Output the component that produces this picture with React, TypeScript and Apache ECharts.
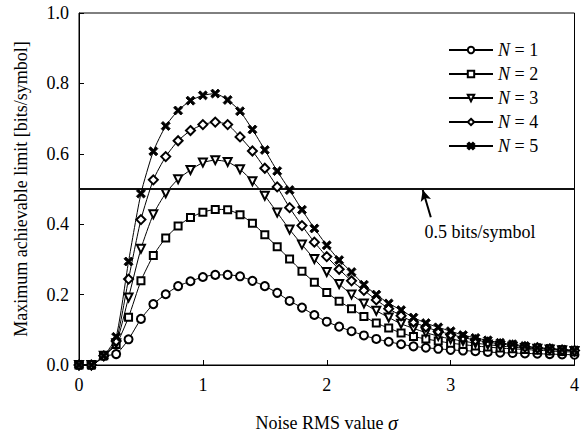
import React, { useEffect, useRef } from "react";
import * as echarts from "echarts";

const sigma: number[] = [
  0, 0.1, 0.2, 0.3, 0.4, 0.5, 0.6, 0.7, 0.8, 0.9, 1.0, 1.1, 1.2, 1.3, 1.4, 1.5, 1.6, 1.7, 1.8, 1.9, 2.0,
  2.1, 2.2, 2.3, 2.4, 2.5, 2.6, 2.7, 2.8, 2.9, 3.0, 3.1, 3.2, 3.3, 3.4, 3.5, 3.6, 3.7, 3.8, 3.9, 4.0,
];

const n1: number[] = [
  0, 0, 0.026, 0.031, 0.073, 0.131, 0.173, 0.201, 0.224, 0.238, 0.25, 0.256, 0.256, 0.252, 0.239, 0.224,
  0.205, 0.182, 0.163, 0.142, 0.123, 0.109, 0.096, 0.084, 0.074, 0.066, 0.059, 0.053, 0.049, 0.046, 0.043,
  0.041, 0.039, 0.037, 0.035, 0.034, 0.033, 0.032, 0.031, 0.030, 0.029,
];
const n2: number[] = [
  0, 0, 0.026, 0.058, 0.136, 0.239, 0.311, 0.361, 0.395, 0.419, 0.434, 0.442, 0.441, 0.427, 0.403, 0.37,
  0.336, 0.301, 0.266, 0.235, 0.206, 0.181, 0.16, 0.138, 0.119, 0.105, 0.091, 0.081, 0.074, 0.068, 0.062,
  0.058, 0.054, 0.051, 0.048, 0.046, 0.044, 0.042, 0.040, 0.038, 0.037,
];
const n3: number[] = [
  0, 0, 0.026, 0.062, 0.192, 0.33, 0.428, 0.488, 0.528, 0.554, 0.575, 0.582, 0.577, 0.556, 0.522, 0.481,
  0.433, 0.385, 0.342, 0.301, 0.264, 0.23, 0.2, 0.175, 0.154, 0.135, 0.117, 0.104, 0.092, 0.082, 0.074,
  0.068, 0.062, 0.058, 0.054, 0.051, 0.048, 0.046, 0.044, 0.042, 0.040,
];
const n4: number[] = [
  0, 0, 0.026, 0.068, 0.244, 0.413, 0.526, 0.592, 0.637, 0.666, 0.683, 0.69, 0.683, 0.648, 0.608, 0.559,
  0.506, 0.447, 0.396, 0.349, 0.308, 0.272, 0.239, 0.212, 0.185, 0.16, 0.14, 0.122, 0.108, 0.096, 0.087,
  0.078, 0.071, 0.065, 0.06, 0.056, 0.052, 0.049, 0.046, 0.043, 0.041,
];
const n5: number[] = [
  0, 0, 0.026, 0.08, 0.294, 0.487, 0.607, 0.679, 0.723, 0.751, 0.766, 0.771, 0.753, 0.721, 0.669, 0.611,
  0.551, 0.497, 0.441, 0.388, 0.34, 0.298, 0.264, 0.228, 0.2, 0.175, 0.156, 0.135, 0.119, 0.107, 0.096,
  0.085, 0.077, 0.07, 0.063, 0.059, 0.054, 0.049, 0.047, 0.044, 0.042,
];

const seriesNames: string[] = ["N = 1", "N = 2", "N = 3", "N = 4", "N = 5"];
const xTicks: number[] = [0, 1, 2, 3, 4];
const threshold = 0.5;
const thresholdLabel = "0.5 bits/symbol";

const FONT = "'Liberation Serif', 'Times New Roman', serif";
const CROSS =
  "path://M0,2 L2,0 L5,3 L8,0 L10,2 L7,5 L10,8 L8,10 L5,7 L2,10 L0,8 L3,5 Z";

export default function App() {
  const ref = useRef<HTMLDivElement>(null);
  useEffect(() => {
    if (!ref.current) return;
    const chart = echarts.init(ref.current, undefined, { renderer: "svg" });
    const all = [n1, n2, n3, n4, n5];
    const symbols = ["emptyCircle", "emptyRect", "emptyTriangle", "emptyDiamond", CROSS];
    const sizes = [8, 7, 8, 9, 9];
    const rotates = [0, 0, 180, 0, 0];
    const series: any[] = all.map((arr, i) => ({
      type: "line",
      name: seriesNames[i],
      data: arr.map((v, j) => [sigma[j], v]),
      symbol: symbols[i],
      symbolSize: sizes[i],
      symbolRotate: rotates[i],
      showAllSymbol: true,
      smooth: 0.2,
      lineStyle: { color: "#000", width: 1 },
      itemStyle: { color: "#000", borderColor: "#000", borderWidth: 0.9 },
      z: 2 + i,
    }));
    series[0].markLine = {
      silent: true,
      symbol: ["none", "none"],
      label: { show: false },
      lineStyle: { color: "#111", width: 2, type: "solid" },
      data: [{ yAxis: threshold }],
    };
    series[1].markLine = {
      silent: true,
      symbol: ["none", "arrow"],
      symbolSize: [8, 11],
      label: { show: false },
      lineStyle: { color: "#000", width: 2, type: "solid" },
      data: [[{ coord: [2.84, 0.42] }, { coord: [2.775, 0.497] }]],
    };
    series[1].markPoint = {
      silent: true,
      symbol: "circle",
      symbolSize: 0,
      data: [{ coord: [2.79, 0.379] }],
      label: {
        show: true,
        position: "right",
        distance: 0,
        formatter: thresholdLabel,
        color: "#000",
        fontFamily: FONT,
        fontSize: 18,
      },
    };

    chart.setOption({
      animation: false,
      backgroundColor: "#fff",
      grid: {
        left: 79,
        right: 4,
        top: 13,
        bottom: 66,
        show: true,
        borderColor: "#000",
        borderWidth: 1,
      },
      legend: {
        orient: "vertical",
        left: 443,
        top: 36,
        itemWidth: 44,
        itemHeight: 8,
        itemGap: 6,
        data: seriesNames,
        textStyle: {
          fontFamily: FONT,
          fontSize: 18,
          color: "#000",
          rich: {
            i: { fontFamily: FONT, fontSize: 18, fontStyle: "italic", color: "#000" },
            n: { fontFamily: FONT, fontSize: 18, color: "#000" },
          },
        },
        formatter: (name: string) => `{i|N}{n|${name.slice(1)}}`,
      },
      xAxis: {
        type: "value",
        min: 0,
        max: 4,
        interval: 1,
        name: "{a|Noise RMS value }{b|σ}",
        nameLocation: "middle",
        nameGap: 48,
        nameTextStyle: {
          rich: {
            a: { fontFamily: FONT, fontSize: 18, color: "#000" },
            b: { fontFamily: FONT, fontSize: 20, fontStyle: "italic", color: "#000" },
          },
        },
        axisLine: { show: true, lineStyle: { color: "#000", width: 1 } },
        axisTick: { show: true, inside: true, length: 5, lineStyle: { color: "#000" } },
        axisLabel: {
          margin: 11,
          fontFamily: FONT,
          fontSize: 18,
          color: "#000",
          formatter: (v: number) => (xTicks.includes(v) ? String(v) : ""),
        },
        splitLine: { show: false },
      },
      yAxis: {
        type: "value",
        min: 0,
        max: 1,
        interval: 0.2,
        name: "Maximum achievable limit [bits/symbol]",
        nameLocation: "middle",
        nameGap: 49,
        nameTextStyle: { fontFamily: FONT, fontSize: 18, color: "#000" },
        axisLine: { show: true, lineStyle: { color: "#000", width: 1 } },
        axisTick: { show: true, inside: true, length: 5, lineStyle: { color: "#000" } },
        axisLabel: {
          margin: 10,
          fontFamily: FONT,
          fontSize: 18,
          color: "#000",
          formatter: (v: number) => v.toFixed(1),
        },
        splitLine: { show: false },
      },
      series,
    });
    return () => chart.dispose();
  }, []);
  return <div ref={ref} style={{ width: 582, height: 438, position: "absolute", left: 0, top: 0 }} />;
}
